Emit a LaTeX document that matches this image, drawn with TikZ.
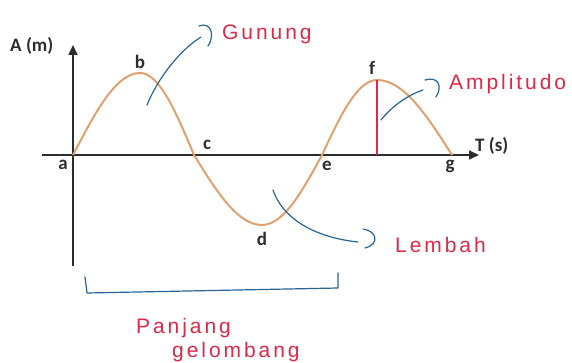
\documentclass[tikz,border=0pt]{standalone}
\usepackage{fontspec}
\setmainfont{Carlito}
\newfontfamily\handfont{Liberation Sans}[LetterSpace=14]
\usetikzlibrary{arrows.meta}
\definecolor{wave}{RGB}{226,160,110}
\definecolor{axisgray}{RGB}{45,45,45}
\definecolor{inkblue}{RGB}{40,100,150}
\definecolor{inkred}{RGB}{222,40,72}
\tikzset{
  axisline/.style={draw=axisgray, line width=1.6pt, -{Triangle[length=10pt,width=9pt]}},
  wavepath/.style={draw=wave, line width=2pt},
  lbl/.style={font=\bfseries\fontsize{19}{20}\selectfont, text=axisgray, inner sep=0pt},
  inkb/.style={draw=inkblue, line width=1.2pt, line cap=round, line join=round},
  inkr/.style={draw=inkred, line width=1.2pt},
  hand/.style={font=\handfont\fontsize{21}{22}\selectfont, text=inkred, inner sep=0pt, anchor=base west},
}
\begin{document}
\begin{tikzpicture}[x=1pt,y=-1pt]
\useasboundingbox (0,0) rectangle (572,363);
% points of the wave
\coordinate (a) at (73,155);
\coordinate (b) at (140,73);
\coordinate (c) at (194,155);
\coordinate (d) at (262,225);
\coordinate (e) at (322,155);
\coordinate (f) at (377,80);
\coordinate (g) at (452,155);
\coordinate (fb) at (377,155);
% axes
\coordinate (ybot) at (73,266);
\coordinate (ytop) at (73,45);
\coordinate (xl) at (42,155);
\coordinate (xr) at (479,155);
\draw[axisline] (ybot) -- (ytop);
\draw[axisline] (xl) -- (xr);
% wave
\draw[wavepath] (a) .. controls (94.9,113) and (115.7,73) .. (b)
  .. controls (159.5,73) and (176.4,113) .. (c)
  .. controls (216.2,190.9) and (237.4,225) .. (d)
  .. controls (283.7,225) and (302.4,190.9) .. (e)
  .. controls (339.9,116.6) and (357.1,80) .. (f)
  .. controls (404.2,80) and (427.5,116.6) .. (g);
% amplitude line
\draw[inkr] (f) -- (fb);
% labels
\node[lbl, anchor=base west] (yl) at (10,52) {A (m)};
\node[lbl, anchor=base west] (xlab) at (475,152) {T (s)};
\node[lbl, anchor=base] (la) at (63,170) {a};
\node[lbl, anchor=base] (lb) at (140,69) {b};
\node[lbl, anchor=base] (lc) at (207,150) {c};
\node[lbl, anchor=base] (ld) at (262,245) {d};
\node[lbl, anchor=base] (le) at (327,171) {e};
\node[lbl, anchor=base] (lf) at (372,75) {f};
\node[lbl, anchor=base] (lg) at (450,170) {g};
% handwritten notes
\node[hand] (gunung) at (222,40) {Gunung};
\node[hand] (ampl) at (449,90) {Amplitudo};
\node[hand] (lembah) at (395,252) {Lembah};
\node[hand] (panjang) at (136,333) {Panjang};
\node[hand] (gelomb) at (172,357) {gelombang};
% pointers
\coordinate (g1) at (147,105);
\coordinate (g2) at (201,37);
\draw[inkb] (g1) .. controls (158,78) and (180,50) .. (g2);
\draw[inkb] (199,26) .. controls (213,21) and (214,38) .. (208,46);
\coordinate (a1) at (381,120);
\coordinate (a2) at (423,90);
\draw[inkb] (a1) .. controls (392,106) and (408,95) .. (a2);
\draw[inkb] (425,80) .. controls (438,76) and (443,86) .. (436,97);
\coordinate (l1) at (273,190);
\coordinate (l2) at (358,242);
\draw[inkb] (l1) .. controls (284,222) and (320,238) .. (l2);
\draw[inkb] (363,229) .. controls (377,231) and (380,244) .. (365,248);
% bracket
\coordinate (br1) at (85,277);
\coordinate (br2) at (87,293);
\coordinate (br3) at (338,288);
\coordinate (br4) at (338,273);
\draw[inkb] (br1) -- (br2) -- (br3) -- (br4);
\end{tikzpicture}
\end{document}
